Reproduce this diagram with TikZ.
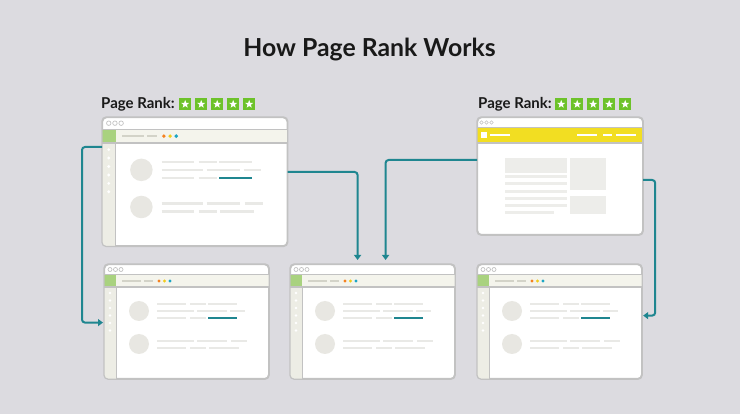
\documentclass[tikz,border=0pt]{standalone}
\usepackage{fontspec}
\setmainfont{Lato}
\usetikzlibrary{arrows.meta,shapes.geometric,calc}
\definecolor{bg}{HTML}{DCDBE0}
\definecolor{frame}{HTML}{C2C2C2}
\definecolor{bandfill}{HTML}{F4F4EC}
\definecolor{greensq}{HTML}{A9D27F}
\definecolor{sidefill}{HTML}{EDEDE5}
\definecolor{bandline}{HTML}{D3D3C8}
\definecolor{contline}{HTML}{E9E9E6}
\definecolor{circfill}{HTML}{E8E7E2}
\definecolor{teal}{HTML}{1F8690}
\definecolor{dorange}{HTML}{F58220}
\definecolor{dyellow}{HTML}{F2CC1B}
\definecolor{dcyan}{HTML}{1BA6C4}
\definecolor{yellowband}{HTML}{F2DE22}
\definecolor{stargreen}{HTML}{6DC22A}
\definecolor{blockgray}{HTML}{EDEDEA}
\tikzset{
  winframe/.style={draw=frame, fill=white, line width=1.2pt, rounded corners=4pt, inner sep=0pt, anchor=north west},
  edge/.style={draw=frame, line width=1pt},
  cline/.style={draw=contline, line width=2.3pt},
  tline/.style={draw=teal, line width=2.3pt},
  bline/.style={draw=bandline, line width=1.3pt},
  conn/.style={draw=teal, line width=2pt, rounded corners=3pt, -{Triangle[length=5pt,width=7pt]}},
  starbox/.style={fill=stargreen, minimum size=12pt, inner sep=0pt},
  whitestar/.style={star, star points=5, star point ratio=2.4, fill=white, inner sep=0pt, minimum size=8.5pt},
  prlabel/.style={anchor=base west, font=\fontsize{15}{18}\selectfont\bfseries, text=black!90, inner sep=0pt},
}
\newcommand\wininside{%
  \fill[bandfill] (0,11) rectangle (200,23);
  \fill[greensq] (0,11) rectangle (12,23);
  \fill[sidefill] (0,23) rectangle (12,140);
  \draw[edge] (0,11) -- (200,11);
  \draw[edge, line width=1.4pt] (0,23) -- (200,23);
  \draw[edge] (12,23) -- (12,140);
  \foreach \x in {6,11.5,17} \draw[frame, line width=0.7pt] (\x,5.5) circle[radius=2];
  \draw[bline] (18,17) -- (37,17) (40,17) -- (49,17);
  \fill[dorange] (55,17) circle[radius=1.7];
  \fill[dyellow] (60.5,17) circle[radius=1.7];
  \fill[dcyan] (66,17) circle[radius=1.7];
  \foreach \y in {29,36.5,44,51.5,59,66.5} \fill[white] (6,\y) circle[radius=1.4];
  \fill[circfill] (35,47) circle[radius=10];
  \fill[circfill] (35,80) circle[radius=10];
  \draw[cline] (53,40) -- (82,40) (86,40) -- (102,40) (104,40) -- (133,40);
  \draw[cline] (53,47) -- (90,47) (93,47) -- (123,47) (126,47) -- (141,47);
  \draw[cline] (53,54) -- (82,54) (86,54) -- (102,54);
  \draw[tline] (104,54) -- (133,54);
  \draw[cline] (53,77) -- (90,77) (93,77) -- (123,77) (127,77) -- (143,77);
  \draw[cline] (53,84) -- (82,84) (86,84) -- (102,84) (105,84) -- (135,84);
}
% name, L, T, scale
\newcommand\browserwin[4]{%
  \node[winframe, minimum width={164*#4}, minimum height={114*#4}] (#1) at (#2,#3) {};
  \begin{scope}
    \clip[rounded corners=4pt] (#1.north west) rectangle (#1.south east);
    \begin{scope}[shift={(#1.north west)}, scale=#4]
      \wininside
    \end{scope}
  \end{scope}
  \draw[frame, line width=1.2pt, rounded corners=4pt] (#1.north west) rectangle (#1.south east);
}
\newcommand\rankstars[2]{%
  \foreach \i in {0,...,4} {
    \node[starbox, anchor=north west] (s#1\i) at ({#2+16*\i},98) {};
    \node[whitestar] at (s#1\i.center) {};
  }
}
\begin{document}
\begin{tikzpicture}[x=1pt, y=-1pt]
\fill[bg] (0,0) rectangle (740,414);
\useasboundingbox (0,0) rectangle (740,414);

\node[anchor=base, font=\fontsize{24.8}{28}\selectfont\bfseries, text=black!90] (title) at (369.5,57) {How Page Rank Works};

% top-left window
\browserwin{w1}{102}{117}{1.125}
% bottom windows
\browserwin{w3}{104}{264}{1}
\browserwin{w4}{290}{264}{1}
\browserwin{w5}{477}{264}{1}

% top-right window
\node[winframe, minimum width=165, minimum height=117] (w2) at (477,117) {};
\begin{scope}
  \clip[rounded corners=4pt] (w2.north west) rectangle (w2.south east);
  \begin{scope}[shift={(w2.north west)}]
    \fill[yellowband] (0,11) rectangle (165,26);
    \draw[edge] (0,11) -- (165,11);
    \draw[edge, line width=1.4pt] (0,26) -- (165,26);
    \foreach \x in {4.5,9.5,14.5} \draw[frame, line width=0.6pt] (\x,5.5) circle[radius=1.8];
    \fill[white] (4,15) rectangle (10,21);
    \draw[white, line width=1.6pt] (13,18) -- (33,18) (100,18) -- (120,18) (126,18) -- (135,18) (139,18) -- (159,18);
    \fill[blockgray] (28,41) rectangle (90,56);
    \foreach \y in {60,67,75,82,89} \draw[blockgray, line width=3pt] (28,\y) -- (90,\y);
    \draw[blockgray, line width=3pt] (28,96) -- (77,96);
    \fill[blockgray] (93,41) rectangle (129,73);
    \fill[blockgray] (93,79) rectangle (129,97);
  \end{scope}
\end{scope}
\draw[frame, line width=1.2pt, rounded corners=4pt] (w2.north west) rectangle (w2.south east);

% labels
\node[prlabel] (pr1) at (101,109) {Page Rank:};
\rankstars{a}{179}
\node[prlabel] (pr2) at (478,109) {Page Rank:};
\rankstars{b}{555}

% connectors
\draw[conn, shorten >=1pt] ([yshift=-30pt]w1.north west) -- ++(-20pt,0) |- ([yshift=-1pt]w3.west);
\draw[conn, shorten >=4pt] ([yshift=-55pt]w1.north east) -| ([xshift=-15pt]w4.north);
\draw[conn, shorten >=4pt] ([yshift=-43pt]w2.north west) -| ([xshift=13pt]w4.north);
\draw[conn, shorten >=1pt] ([yshift=-63pt]w2.north east) -- ++(12pt,0) |- ([yshift=6pt]w5.east);
\end{tikzpicture}
\end{document}
